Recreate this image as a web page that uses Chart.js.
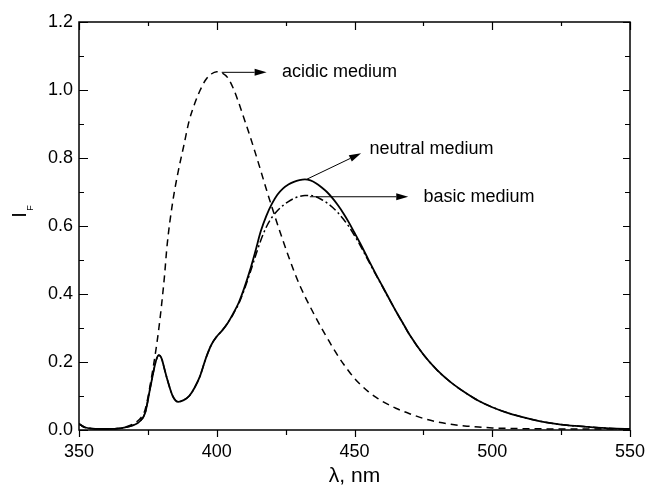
<!DOCTYPE html>
<html>
<head>
<meta charset="utf-8">
<title>Fluorescence spectra</title>
<script src="https://cdn.jsdelivr.net/npm/chart.js@4.4.0/dist/chart.umd.min.js"></script>
<style>
  html, body { margin: 0; padding: 0; background: #fff; }
  #wrap { width: 648px; height: 490px; }
</style>
</head>
<body>
<div id="wrap"><canvas id="spectraChart" width="648" height="490"></canvas></div>
<script>
// Emission wavelengths (nm), shared by the three spectra
const wavelengths = [
  350, 352, 355, 360, 365, 368, 370, 372, 374, 376,
  378, 379, 380, 381, 382, 384, 386, 388, 390, 392,
  394, 396, 398, 400, 402, 404, 406, 408, 410, 412,
  414, 416, 418, 420, 422, 424, 426, 428, 430, 432,
  434, 436, 438, 440, 442, 444, 446, 448, 450, 452,
  455, 458, 460, 462, 465, 468, 470, 475, 480, 485,
  490, 495, 500, 505, 510, 515, 520, 525, 530, 535,
  540, 545, 550
];

// Fluorescence intensity I_F in each medium
const neutralMedium = [
  0.018, 0.008, 0.004, 0.003, 0.005, 0.010, 0.015, 0.025, 0.050, 0.130,
  0.205, 0.220, 0.210, 0.180, 0.150, 0.100, 0.083, 0.088, 0.100, 0.125,
  0.160, 0.210, 0.250, 0.275, 0.293, 0.315, 0.343, 0.375, 0.418, 0.468,
  0.525, 0.585, 0.630, 0.665, 0.692, 0.710, 0.722, 0.730, 0.735, 0.737,
  0.734, 0.726, 0.714, 0.700, 0.682, 0.661, 0.637, 0.610, 0.580, 0.550,
  0.502, 0.455, 0.425, 0.395, 0.350, 0.308, 0.280, 0.222, 0.176, 0.140,
  0.111, 0.086, 0.067, 0.052, 0.040, 0.030, 0.022, 0.016, 0.012, 0.009,
  0.006, 0.004, 0.003
];

const basicMedium = [
  0.018, 0.008, 0.004, 0.003, 0.005, 0.010, 0.015, 0.025, 0.050, 0.130,
  0.205, 0.220, 0.210, 0.180, 0.150, 0.100, 0.083, 0.088, 0.100, 0.125,
  0.160, 0.210, 0.250, 0.275, 0.293, 0.315, 0.341, 0.372, 0.413, 0.460,
  0.510, 0.558, 0.597, 0.625, 0.645, 0.660, 0.672, 0.681, 0.687, 0.690,
  0.690, 0.686, 0.678, 0.668, 0.655, 0.639, 0.620, 0.598, 0.572, 0.544,
  0.498, 0.453, 0.424, 0.394, 0.350, 0.308, 0.280, 0.222, 0.176, 0.140,
  0.111, 0.086, 0.067, 0.052, 0.040, 0.030, 0.022, 0.016, 0.012, 0.009,
  0.006, 0.004, 0.003
];

const acidicMedium = [
  0.018, 0.008, 0.004, 0.003, 0.005, 0.012, 0.020, 0.032, 0.060, 0.140,
  0.240, 0.300, 0.370, 0.450, 0.545, 0.670, 0.760, 0.835, 0.910, 0.960,
  1.000, 1.030, 1.047, 1.054, 1.050, 1.036, 1.005, 0.962, 0.914, 0.866,
  0.815, 0.762, 0.708, 0.656, 0.606, 0.558, 0.512, 0.468, 0.428, 0.393,
  0.361, 0.330, 0.300, 0.272, 0.244, 0.218, 0.194, 0.172, 0.152, 0.135,
  0.113, 0.095, 0.085, 0.076, 0.064, 0.054, 0.048, 0.034, 0.024, 0.017,
  0.012, 0.009, 0.006, 0.005, 0.004, 0.004, 0.003, 0.003, 0.003, 0.003,
  0.003, 0.003, 0.003
];

// Axis ticks
const xTicks = [350, 400, 450, 500, 550];
const xMinorStep = 25;
const yTicks = [0, 0.2, 0.4, 0.6, 0.8, 1.0, 1.2];
const yMinorStep = 0.1;

// Curve labels: arrow tail, arrow head and text anchor, in data units
const curveLabels = [
  { text: 'acidic medium',  tail: [401.8, 1.052], head: [418.1, 1.052], at: [423.7, 1.052] },
  { text: 'neutral medium', tail: [432.8, 0.738], head: [452.4, 0.814], at: [455.4, 0.826] },
  { text: 'basic medium',   tail: [433.8, 0.686], head: [469.5, 0.686], at: [475.0, 0.686] }
];

const FONT = 'Liberation Sans, Arial, Helvetica, sans-serif';

function toPoints(values) {
  return wavelengths.map((w, i) => ({ x: w, y: values[i] }));
}

// Box frame and tick marks (inward on top/left/right, outward on the bottom)
const frameAndTicks = {
  id: 'frameAndTicks',
  afterDraw(chart) {
    const { ctx, chartArea: a, scales: { x, y } } = chart;
    ctx.save();
    ctx.strokeStyle = '#000';
    ctx.lineWidth = 1.5;
    ctx.strokeRect(a.left, a.top, a.right - a.left, a.bottom - a.top);

    ctx.lineWidth = 1.2;
    ctx.beginPath();
    for (let v = x.min; v <= x.max + 1e-6; v += xMinorStep) {
      const px = Math.round(x.getPixelForValue(v)) + 0.5;
      const major = xTicks.includes(v);
      ctx.moveTo(px, a.bottom);
      ctx.lineTo(px, a.bottom + (major ? 7 : 5));
      ctx.moveTo(px, a.top);
      ctx.lineTo(px, a.top + (major ? 8 : 4));
    }
    for (let v = y.min; v <= y.max + 1e-6; v += yMinorStep) {
      const py = Math.round(y.getPixelForValue(v)) + 0.5;
      const major = yTicks.some(t => Math.abs(t - v) < 1e-6);
      ctx.moveTo(a.left, py);
      ctx.lineTo(a.left + (major ? 9 : 5), py);
      ctx.moveTo(a.right, py);
      ctx.lineTo(a.right - (major ? 7 : 5), py);
    }
    ctx.stroke();

    // y-axis title: I with subscript F, rotated
    ctx.fillStyle = '#000';
    ctx.translate(26, 215);
    ctx.rotate(-Math.PI / 2);
    ctx.textAlign = 'center';
    ctx.textBaseline = 'alphabetic';
    ctx.font = '20px ' + FONT;
    ctx.fillText('I', 0, 0);
    ctx.font = '9px ' + FONT;
    ctx.fillText('F', 7, 7);
    ctx.restore();
  }
};

// Arrows pointing from each curve to its name
const arrowLabels = {
  id: 'arrowLabels',
  afterDatasetsDraw(chart) {
    const { ctx, scales: { x, y } } = chart;
    ctx.save();
    ctx.strokeStyle = '#000';
    ctx.fillStyle = '#000';
    ctx.lineWidth = 1;
    curveLabels.forEach(lbl => {
      const x0 = x.getPixelForValue(lbl.tail[0]);
      const y0 = y.getPixelForValue(lbl.tail[1]);
      const x1 = x.getPixelForValue(lbl.head[0]);
      const y1 = y.getPixelForValue(lbl.head[1]);
      const ang = Math.atan2(y1 - y0, x1 - x0);
      const len = 12, half = 3.5;
      const bx = x1 - len * Math.cos(ang);
      const by = y1 - len * Math.sin(ang);
      ctx.beginPath();
      ctx.moveTo(x0, y0);
      ctx.lineTo(bx, by);
      ctx.stroke();
      ctx.beginPath();
      ctx.moveTo(x1, y1);
      ctx.lineTo(bx + half * Math.sin(ang), by - half * Math.cos(ang));
      ctx.lineTo(bx - half * Math.sin(ang), by + half * Math.cos(ang));
      ctx.closePath();
      ctx.fill();

      ctx.font = '18px ' + FONT;
      ctx.textAlign = 'left';
      ctx.textBaseline = 'middle';
      ctx.fillText(lbl.text, x.getPixelForValue(lbl.at[0]), y.getPixelForValue(lbl.at[1]));
    });
    ctx.restore();
  }
};

const ctx = document.getElementById('spectraChart').getContext('2d');
const spectraChart = new Chart(ctx, {
  type: 'line',
  data: {
    datasets: [
      {
        label: 'neutral medium',
        data: toPoints(neutralMedium),
        borderColor: '#000',
        borderWidth: 1.8
      },
      {
        label: 'basic medium',
        data: toPoints(basicMedium),
        borderColor: '#000',
        borderWidth: 1.5,
        borderDash: [8, 3, 2, 3]
      },
      {
        label: 'acidic medium',
        data: toPoints(acidicMedium),
        borderColor: '#000',
        borderWidth: 1.5,
        borderDash: [7, 5]
      }
    ]
  },
  options: {
    responsive: false,
    animation: false,
    devicePixelRatio: 1,
    elements: {
      point: { radius: 0 },
      line: { cubicInterpolationMode: 'monotone', fill: false }
    },
    layout: { padding: { top: 22, right: 18, left: 0, bottom: 0 } },
    plugins: {
      legend: { display: false },
      tooltip: { enabled: false }
    },
    scales: {
      x: {
        type: 'linear',
        min: 350,
        max: 550,
        afterBuildTicks: scale => { scale.ticks = xTicks.map(v => ({ value: v })); },
        afterFit: scale => {
          scale.height = 60;
          scale.paddingLeft = 0;
          scale.paddingRight = 0;
        },
        grid: { display: false, drawTicks: false },
        border: { display: false },
        ticks: {
          padding: 11,
          color: '#000',
          maxRotation: 0,
          autoSkip: false,
          font: { family: FONT, size: 18 }
        },
        title: {
          display: true,
          text: 'λ, nm',
          color: '#000',
          font: { family: FONT, size: 21 },
          padding: { top: 0, bottom: 1 }
        }
      },
      y: {
        type: 'linear',
        min: 0,
        max: 1.2,
        afterBuildTicks: scale => { scale.ticks = yTicks.map(v => ({ value: v })); },
        afterFit: scale => {
          scale.width = 79;
          scale.paddingTop = 0;
          scale.paddingBottom = 0;
        },
        grid: { display: false, drawTicks: false },
        border: { display: false },
        ticks: {
          padding: 6,
          color: '#000',
          font: { family: FONT, size: 18 },
          callback: value => value.toFixed(1)
        }
      }
    }
  },
  plugins: [arrowLabels, frameAndTicks]
});
</script>
</body>
</html>
